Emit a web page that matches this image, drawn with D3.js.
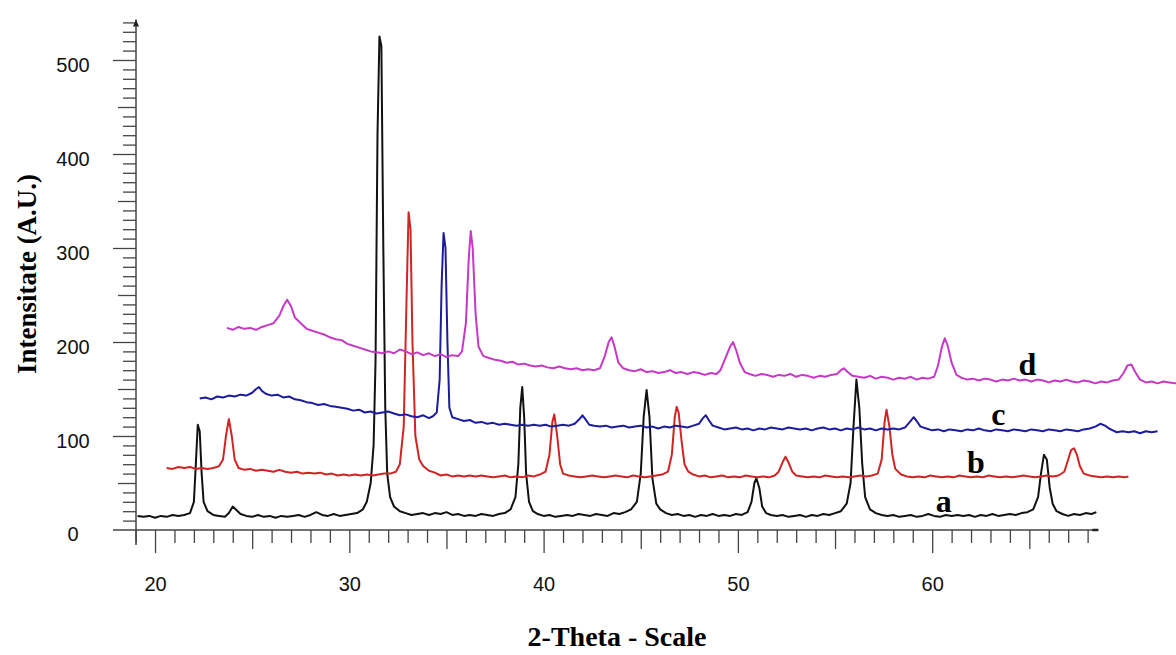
<!DOCTYPE html>
<html><head><meta charset="utf-8">
<script src="https://cdn.jsdelivr.net/npm/d3@7/dist/d3.min.js"></script>
<style>
body{margin:0;background:#fff;}
svg{display:block;}
</style></head>
<body>
<svg id="chart" width="1176" height="655"></svg>
<script>
// ---- Data (2-theta, intensity) ----
const seriesNames = ["a","b","c","d"];
const seriesColors = ["#111111","#d02424","#1c1c9c","#c639c6"];

const serA = [[19.1,15],[19.4,14],[19.7,15],[20.0,13],[20.3,15],[20.6,14],[20.9,16],[21.2,15],[21.5,16],[21.8,18],[22.0,30],[22.1,70],[22.2,112],[22.3,105],[22.4,60],[22.5,30],[22.7,20],[23.0,16],[23.3,15],[23.6,14],[23.8,18],[24.0,25],[24.2,21],[24.4,17],[24.7,15],[25.0,14],[25.3,16],[25.6,14],[25.9,15],[26.2,13],[26.5,15],[26.8,14],[27.1,15],[27.4,16],[27.7,14],[28.0,16],[28.3,19],[28.6,16],[28.9,15],[29.2,17],[29.5,15],[29.8,16],[30.1,17],[30.4,18],[30.7,22],[30.9,30],[31.1,50],[31.25,90],[31.35,180],[31.45,420],[31.55,525],[31.65,515],[31.75,300],[31.85,130],[31.95,60],[32.1,35],[32.3,25],[32.6,20],[32.9,18],[33.2,16],[33.5,17],[33.8,18],[34.1,16],[34.4,18],[34.7,17],[35.0,19],[35.3,16],[35.6,17],[35.9,15],[36.2,16],[36.5,15],[36.8,17],[37.1,16],[37.4,15],[37.7,17],[38.0,18],[38.3,22],[38.55,35],[38.7,70],[38.8,130],[38.9,152],[39.0,120],[39.1,60],[39.25,30],[39.45,20],[39.7,17],[40.0,15],[40.3,16],[40.6,14],[40.9,15],[41.2,16],[41.5,15],[41.8,17],[42.1,16],[42.4,15],[42.7,17],[43.0,16],[43.3,15],[43.6,18],[43.9,17],[44.2,19],[44.5,22],[44.8,30],[45.0,60],[45.15,120],[45.3,149],[45.45,120],[45.6,55],[45.8,28],[46.0,22],[46.3,18],[46.6,16],[46.9,17],[47.2,15],[47.5,16],[47.8,14],[48.1,16],[48.4,15],[48.7,17],[49.0,15],[49.3,16],[49.6,15],[49.9,17],[50.2,16],[50.5,19],[50.7,30],[50.85,50],[50.95,55],[51.1,45],[51.25,25],[51.45,18],[51.7,16],[52.0,15],[52.3,16],[52.6,14],[52.9,15],[53.2,16],[53.5,14],[53.8,16],[54.1,15],[54.4,17],[54.7,16],[55.0,18],[55.3,20],[55.6,28],[55.8,50],[55.95,110],[56.1,160],[56.25,130],[56.4,70],[56.55,35],[56.8,22],[57.1,18],[57.4,16],[57.7,15],[58.0,16],[58.3,14],[58.6,15],[58.9,16],[59.2,14],[59.5,15],[59.8,17],[60.1,15],[60.4,14],[60.7,16],[61.0,15],[61.3,16],[61.6,15],[61.9,16],[62.2,14],[62.5,16],[62.8,15],[63.1,17],[63.4,15],[63.7,16],[64.0,17],[64.3,16],[64.6,18],[64.9,19],[65.2,22],[65.45,35],[65.6,60],[65.75,80],[65.9,75],[66.05,45],[66.2,28],[66.4,20],[66.7,17],[67.0,15],[67.3,17],[67.6,16],[67.9,18],[68.2,17],[68.45,19]];

const serB = [[20.6,66],[20.9,65],[21.2,67],[21.5,66],[21.8,67],[22.1,65],[22.4,66],[22.7,65],[23.0,66],[23.3,68],[23.5,75],[23.65,100],[23.8,118],[23.95,100],[24.1,75],[24.3,66],[24.6,64],[24.9,65],[25.2,63],[25.5,64],[25.8,63],[26.1,62],[26.4,64],[26.7,62],[27.0,61],[27.3,62],[27.6,60],[27.9,61],[28.2,60],[28.5,61],[28.8,59],[29.1,60],[29.4,58],[29.7,59],[30.0,58],[30.3,59],[30.6,58],[30.9,59],[31.2,58],[31.5,59],[31.8,60],[32.1,60],[32.4,62],[32.6,70],[32.8,110],[32.95,250],[33.05,338],[33.15,320],[33.25,200],[33.4,100],[33.6,75],[33.8,68],[34.1,63],[34.4,61],[34.7,58],[35.0,59],[35.3,57],[35.6,58],[35.9,57],[36.2,58],[36.5,57],[36.8,58],[37.1,57],[37.4,56],[37.7,57],[38.0,58],[38.3,56],[38.6,57],[38.9,56],[39.2,58],[39.5,57],[39.8,59],[40.1,62],[40.3,80],[40.45,115],[40.55,123],[40.7,100],[40.85,70],[41.0,60],[41.3,58],[41.6,57],[41.9,56],[42.2,57],[42.5,58],[42.8,57],[43.1,56],[43.4,57],[43.7,58],[44.0,57],[44.3,56],[44.6,58],[44.9,57],[45.2,56],[45.5,57],[45.8,58],[46.1,59],[46.4,62],[46.6,80],[46.75,120],[46.85,131],[46.95,125],[47.1,95],[47.25,70],[47.45,62],[47.7,59],[48.0,57],[48.3,58],[48.6,56],[48.9,57],[49.2,58],[49.5,56],[49.8,57],[50.1,56],[50.4,58],[50.7,57],[51.0,56],[51.3,57],[51.6,56],[51.9,58],[52.1,62],[52.3,72],[52.45,78],[52.6,72],[52.8,62],[53.0,58],[53.3,57],[53.6,56],[53.9,57],[54.2,56],[54.5,58],[54.8,57],[55.1,56],[55.4,57],[55.7,56],[56.0,57],[56.3,58],[56.6,57],[56.9,58],[57.2,60],[57.4,75],[57.55,115],[57.65,128],[57.8,110],[57.95,80],[58.1,65],[58.4,59],[58.7,57],[59.0,56],[59.3,57],[59.6,56],[59.9,58],[60.2,57],[60.5,56],[60.8,57],[61.1,56],[61.4,58],[61.7,57],[62.0,56],[62.3,57],[62.6,56],[62.9,58],[63.2,57],[63.5,56],[63.8,57],[64.1,56],[64.4,57],[64.7,58],[65.0,57],[65.3,56],[65.6,57],[65.9,58],[66.2,57],[66.5,58],[66.8,62],[67.0,75],[67.15,85],[67.3,87],[67.45,80],[67.6,68],[67.8,60],[68.1,58],[68.4,57],[68.7,56],[69.0,57],[69.3,56],[69.6,57],[69.9,56],[70.1,57]];

const serC = [[22.3,140],[22.6,141],[22.9,139],[23.2,142],[23.5,141],[23.8,143],[24.1,142],[24.4,144],[24.7,143],[25.0,146],[25.2,150],[25.35,152],[25.5,148],[25.7,145],[26.0,143],[26.3,144],[26.6,141],[26.9,142],[27.2,139],[27.5,138],[27.8,136],[28.1,135],[28.4,133],[28.7,134],[29.0,132],[29.3,131],[29.6,130],[29.9,129],[30.2,127],[30.5,128],[30.8,125],[31.1,126],[31.4,124],[31.7,125],[32.0,126],[32.3,124],[32.6,122],[32.9,123],[33.2,121],[33.5,120],[33.8,122],[34.1,119],[34.3,121],[34.5,125],[34.65,160],[34.75,260],[34.85,316],[34.95,300],[35.05,200],[35.15,130],[35.3,120],[35.6,118],[35.9,116],[36.2,117],[36.5,114],[36.8,115],[37.1,113],[37.4,114],[37.7,112],[38.0,113],[38.3,112],[38.6,111],[38.9,112],[39.2,111],[39.5,112],[39.8,111],[40.1,112],[40.4,110],[40.7,111],[41.0,112],[41.3,111],[41.6,113],[41.85,118],[42.0,122],[42.15,118],[42.35,112],[42.6,111],[42.9,110],[43.2,111],[43.5,109],[43.8,110],[44.1,111],[44.4,109],[44.7,110],[45.0,111],[45.3,109],[45.6,110],[45.9,108],[46.2,110],[46.5,109],[46.8,111],[47.1,110],[47.4,109],[47.7,111],[48.0,113],[48.2,119],[48.35,122],[48.5,117],[48.7,111],[49.0,109],[49.3,107],[49.6,108],[49.9,109],[50.2,107],[50.5,108],[50.8,106],[51.1,108],[51.4,107],[51.7,109],[52.0,108],[52.3,107],[52.6,109],[52.9,108],[53.2,107],[53.5,108],[53.8,106],[54.1,108],[54.4,109],[54.7,107],[55.0,108],[55.3,106],[55.6,108],[55.9,107],[56.2,109],[56.5,107],[56.8,108],[57.1,106],[57.4,108],[57.7,107],[58.0,108],[58.3,107],[58.6,109],[58.85,115],[59.05,120],[59.2,116],[59.4,110],[59.7,108],[60.0,106],[60.3,107],[60.6,105],[60.9,107],[61.2,106],[61.5,105],[61.8,107],[62.1,106],[62.4,108],[62.7,106],[63.0,105],[63.3,107],[63.6,106],[63.9,105],[64.2,107],[64.5,106],[64.8,105],[65.1,107],[65.4,106],[65.7,105],[66.0,107],[66.3,106],[66.6,105],[66.9,107],[67.2,106],[67.5,105],[67.8,107],[68.1,108],[68.4,110],[68.65,113],[68.9,111],[69.1,108],[69.3,106],[69.5,104],[69.8,105],[70.1,104],[70.4,105],[70.7,103],[71.0,105],[71.3,104],[71.6,105]];

const serD = [[23.7,215],[24.0,213],[24.3,216],[24.6,214],[24.9,215],[25.2,213],[25.5,216],[25.8,218],[26.1,220],[26.4,228],[26.6,238],[26.8,245],[27.0,238],[27.2,226],[27.5,220],[27.8,214],[28.1,212],[28.4,210],[28.7,208],[29.0,205],[29.3,203],[29.6,202],[29.9,198],[30.2,196],[30.5,194],[30.8,192],[31.1,190],[31.4,189],[31.7,188],[32.0,190],[32.3,188],[32.6,192],[32.9,190],[33.2,187],[33.5,189],[33.8,186],[34.1,188],[34.4,185],[34.7,187],[35.0,184],[35.3,186],[35.6,185],[35.8,190],[36.0,220],[36.15,290],[36.25,318],[36.35,300],[36.5,230],[36.65,195],[36.9,185],[37.2,183],[37.5,181],[37.8,180],[38.1,178],[38.4,179],[38.7,176],[39.0,177],[39.3,175],[39.6,174],[39.9,175],[40.2,173],[40.5,172],[40.8,174],[41.1,172],[41.4,171],[41.7,172],[42.0,170],[42.3,171],[42.6,170],[42.9,172],[43.15,185],[43.35,200],[43.5,205],[43.65,195],[43.85,178],[44.1,172],[44.4,170],[44.7,169],[45.0,171],[45.3,168],[45.6,169],[45.9,167],[46.2,168],[46.5,170],[46.8,167],[47.1,168],[47.4,166],[47.7,168],[48.0,167],[48.3,165],[48.6,167],[48.9,166],[49.1,170],[49.4,185],[49.6,195],[49.75,200],[49.9,192],[50.1,178],[50.35,168],[50.6,166],[50.9,164],[51.2,166],[51.5,165],[51.8,163],[52.1,165],[52.4,164],[52.7,166],[53.0,163],[53.3,165],[53.6,164],[53.9,162],[54.2,164],[54.5,163],[54.8,165],[55.1,166],[55.3,170],[55.45,172],[55.65,168],[55.9,164],[56.2,163],[56.5,162],[56.8,164],[57.1,161],[57.4,163],[57.7,162],[58.0,160],[58.3,162],[58.6,161],[58.9,163],[59.2,160],[59.5,162],[59.8,161],[60.1,163],[60.3,175],[60.5,195],[60.65,204],[60.8,196],[61.0,178],[61.25,165],[61.5,162],[61.8,160],[62.1,161],[62.4,159],[62.7,161],[63.0,160],[63.3,158],[63.6,160],[63.9,159],[64.2,161],[64.5,159],[64.8,160],[65.1,158],[65.4,160],[65.7,159],[66.0,157],[66.3,159],[66.6,158],[66.9,160],[67.2,158],[67.5,157],[67.8,159],[68.1,158],[68.4,156],[68.7,158],[69.0,157],[69.3,159],[69.6,160],[69.85,167],[70.05,175],[70.25,176],[70.45,168],[70.7,160],[71.0,157],[71.3,158],[71.6,156],[71.9,158],[72.2,157],[72.5,156],[72.8,157]];

const allSeries = [serA, serB, serC, serD];

const xTickLabels = [20,30,40,50,60];
const yTickLabels = [0,100,200,300,400,500];
const xTitle = "2-Theta - Scale";
const yTitle = "Intensitate (A.U.)";

// label anchor positions (data coords: 2-theta, intensity at baseline)
const labelPos = [[60.6,19],[62.25,60.5],[63.4,112],[64.9,165]];

// ---- Drawing ----
const svg = d3.select("#chart");
const x = d3.scaleLinear().domain([19, 68.55]).range([135.6, 1098.3]);
const y = d3.scaleLinear().domain([0, 500]).range([530, 60]);
const axisColor = "#444";

function xAxisLayer(vals, size, labels){
  const ax = d3.axisBottom(x).tickValues(vals).tickSize(size).tickSizeOuter(0)
    .tickFormat(labels ? d3.format("d") : "");
  const g = svg.append("g").attr("transform","translate(0,530)").call(ax);
  g.select(".domain").remove();
  g.selectAll("line").attr("stroke",axisColor).attr("stroke-width",1.3);
  g.selectAll("text").attr("font-family","'Liberation Sans', Arial, sans-serif")
    .attr("font-size",20).attr("fill","#111").attr("dy","1.35em");
  return g;
}
const xMinor = d3.range(19, 69, 1).filter(v => v % 5 !== 0);
const xMed = d3.range(25, 69, 10);
xAxisLayer(xMinor, 13, false);
xAxisLayer(xMed, 19, false);
const xg = xAxisLayer(xTickLabels, 23, true);
xg.selectAll("text").attr("y", 34);

function yAxisLayer(vals, size, labels){
  const ax = d3.axisLeft(y).tickValues(vals).tickSize(size).tickSizeOuter(0)
    .tickFormat(labels ? d3.format("d") : "");
  const g = svg.append("g").attr("transform","translate(136,0)").call(ax);
  g.select(".domain").remove();
  g.selectAll("line").attr("stroke",axisColor).attr("stroke-width",1.3);
  return g;
}
const yMinor = d3.range(10, 541, 10).filter(v => v % 50 !== 0);
const yMed = d3.range(50, 541, 100);
yAxisLayer(yMinor, 13, false);
yAxisLayer(yMed, 18, false);
const yg = yAxisLayer(yTickLabels.filter(v=>v>0), 23, true);
yg.selectAll("text").attr("font-family","'Liberation Sans', Arial, sans-serif")
  .attr("font-size",20).attr("fill","#111")
  .attr("text-anchor","middle").attr("x",-63).attr("dy","0.55em");
svg.append("text").attr("x",136-63).attr("y",y(0)).attr("dy","0.55em")
  .attr("text-anchor","middle").attr("font-family","'Liberation Sans', Arial, sans-serif")
  .attr("font-size",20).attr("fill","#111").text(yTickLabels[0]);

// axis lines
svg.append("line").attr("x1",113).attr("x2",x(68.55)).attr("y1",y(0)).attr("y2",y(0))
  .attr("stroke",axisColor).attr("stroke-width",1.5);
svg.append("line").attr("x1",136).attr("x2",136).attr("y1",545).attr("y2",y(543))
  .attr("stroke",axisColor).attr("stroke-width",1.5);
svg.append("path").attr("d",`M${136-3},${y(543)+7} L136,${y(543)} L${136+3},${y(543)+7} Z`).attr("fill","#222");
svg.append("line").attr("x1",x(68.55)-6).attr("x2",x(68.55)).attr("y1",y(0)).attr("y2",y(0))
  .attr("stroke","#222").attr("stroke-width",2.5);

// series lines
const line = d3.line().x(d=>x(d[0])).y(d=>y(d[1]));
allSeries.forEach((s,i)=>{
  svg.append("path").datum(s).attr("d",line).attr("fill","none")
    .attr("stroke",seriesColors[i]).attr("stroke-width",2).attr("stroke-linejoin","round");
});

// series labels
seriesNames.forEach((n,i)=>{
  svg.append("text").attr("x",x(labelPos[i][0])).attr("y",y(labelPos[i][1]))
    .attr("text-anchor","middle").attr("font-family","'Liberation Serif','Times New Roman',serif")
    .attr("font-weight","bold").attr("font-size",32).attr("fill","#000").text(n);
});

// titles
svg.append("text").attr("x",617).attr("y",646).attr("text-anchor","middle")
  .attr("font-family","'Liberation Serif','Times New Roman',serif").attr("font-weight","bold")
  .attr("font-size",28).attr("fill","#000").text(xTitle);
svg.append("text").attr("transform","translate(36,274) rotate(-90)").attr("text-anchor","middle")
  .attr("font-family","'Liberation Serif','Times New Roman',serif").attr("font-weight","bold")
  .attr("font-size",27).attr("fill","#000").text(yTitle);
</script>
</body></html>
